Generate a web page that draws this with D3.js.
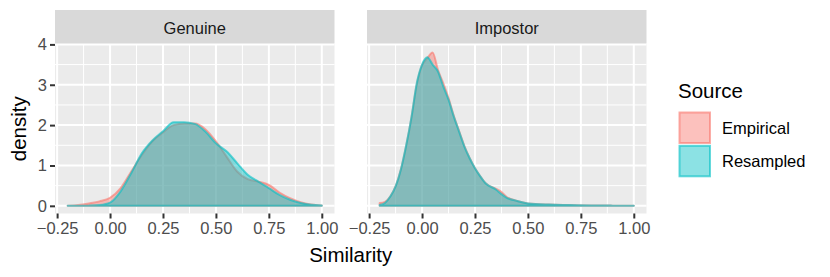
<!DOCTYPE html>
<html>
<head>
<meta charset="utf-8">
<script src="https://cdn.jsdelivr.net/npm/d3@7"></script>
<style>
  body { margin: 0; background: #fff; }
  svg text { font-family: "Liberation Sans", Arial, sans-serif; }
</style>
</head>
<body>
<div id="chart"></div>
<script>
// Facets and sources
const panels = ["Genuine", "Impostor"];
const sources = ["Empirical", "Resampled"];
const sourceColors = { "Empirical": "#F8766D", "Resampled": "#00BFC4" };

// Axis ticks
const xTicks = [-0.25, 0, 0.25, 0.5, 0.75, 1];
const xTickLabels = ["\u22120.25", "0.00", "0.25", "0.50", "0.75", "1.00"];
const xMinor = [-0.125, 0.125, 0.375, 0.625, 0.875];
const yTicks = [0, 1, 2, 3, 4];
const yTickLabels = ["0", "1", "2", "3", "4"];
const yMinor = [0.5, 1.5, 2.5, 3.5];

// Density estimates
const genuineX = [-0.2, -0.15, -0.1, -0.05, 0, 0.05, 0.1, 0.15, 0.2, 0.25, 0.3, 0.35, 0.4,
                  0.45, 0.5, 0.55, 0.6, 0.65, 0.7, 0.75, 0.8, 0.85, 0.9, 0.95, 1.0];
const genuineEmpirical = [0, 0.02, 0.06, 0.11, 0.2, 0.44, 0.85, 1.26, 1.6, 1.82, 2.0, 2.04, 2.04,
                          1.9, 1.6, 1.22, 0.85, 0.66, 0.6, 0.52, 0.33, 0.19, 0.09, 0.035, 0.01];
const genuineResampled = [0, 0.001, 0.005, 0.02, 0.08, 0.36, 0.81, 1.3, 1.62, 1.85, 2.07, 2.07, 2.03,
                          1.84, 1.55, 1.35, 1.06, 0.77, 0.6, 0.44, 0.27, 0.15, 0.07, 0.025, 0.01];

const impostorX = [-0.2, -0.175, -0.15, -0.125, -0.1, -0.075, -0.05, -0.025, 0, 0.025, 0.05, 0.075,
                   0.1, 0.125, 0.15, 0.175, 0.2, 0.225, 0.25, 0.275, 0.3, 0.35, 0.375, 0.4, 0.45,
                   0.5, 0.6, 0.7, 0.8, 0.9, 1.0];
const impostorEmpirical = [0.07, 0.1, 0.23, 0.48, 0.9, 1.48, 2.18, 3.0, 3.48, 3.66, 3.8, 3.37,
                           3.04, 2.67, 2.23, 1.85, 1.48, 1.18, 0.93, 0.73, 0.56, 0.42, 0.34, 0.22, 0.12,
                           0.06, 0.03, 0.02, 0.01, 0.005, 0.002];
const impostorResampled = [0.02, 0.07, 0.23, 0.48, 0.9, 1.5, 2.2, 3.04, 3.5, 3.68, 3.5, 3.33,
                           2.96, 2.63, 2.21, 1.84, 1.47, 1.18, 0.93, 0.73, 0.56, 0.4, 0.29, 0.2, 0.12,
                           0.06, 0.03, 0.02, 0.01, 0.005, 0.002];

const panelData = {
    "Genuine": { x: genuineX, Empirical: genuineEmpirical, Resampled: genuineResampled },
    "Impostor": { x: impostorX, Empirical: impostorEmpirical, Resampled: impostorResampled }
};

const width = 830, height = 277;
const svg = d3.select("#chart").append("svg")
    .attr("width", width)
    .attr("height", height);

// Panel geometry
const panelLeft = { "Genuine": 55, "Impostor": 367 };
const panelW = 279.5;
const panelTop = 44, panelBottom = 213.5;
const stripTop = 10;

const y = d3.scaleLinear().domain([-0.19, 4.01]).range([panelBottom, panelTop]);

panels.forEach(name => {
    const x0 = panelLeft[name];
    const x = d3.scaleLinear().domain([-0.26, 1.06]).range([x0, x0 + panelW]);
    const g = svg.append("g");

    // background
    g.append("rect")
        .attr("x", x0).attr("y", panelTop)
        .attr("width", panelW).attr("height", panelBottom - panelTop)
        .attr("fill", "#EBEBEB");

    // minor grid
    xMinor.forEach(v => {
        g.append("line").attr("x1", x(v)).attr("x2", x(v))
            .attr("y1", panelTop).attr("y2", panelBottom)
            .attr("stroke", "#fff").attr("stroke-width", 1);
    });
    yMinor.forEach(v => {
        g.append("line").attr("x1", x0).attr("x2", x0 + panelW)
            .attr("y1", y(v)).attr("y2", y(v))
            .attr("stroke", "#fff").attr("stroke-width", 1);
    });
    // major grid
    xTicks.forEach(v => {
        g.append("line").attr("x1", x(v)).attr("x2", x(v))
            .attr("y1", panelTop).attr("y2", panelBottom)
            .attr("stroke", "#fff").attr("stroke-width", 2);
    });
    yTicks.forEach(v => {
        g.append("line").attr("x1", x0).attr("x2", x0 + panelW)
            .attr("y1", y(v)).attr("y2", y(v))
            .attr("stroke", "#fff").attr("stroke-width", 2);
    });

    // densities
    const d = panelData[name];
    sources.forEach(src => {
        const pts = d.x.map((xv, i) => [xv, d[src][i]]);
        const area = d3.area()
            .x(p => x(p[0]))
            .y0(y(0))
            .y1(p => y(p[1]))
            .curve(d3.curveMonotoneX);
        g.append("path")
            .datum(pts)
            .attr("d", area)
            .attr("fill", sourceColors[src])
            .attr("fill-opacity", 0.45)
            .attr("stroke", sourceColors[src])
            .attr("stroke-opacity", 0.6)
            .attr("stroke-width", 2)
            .attr("stroke-linejoin", "round");
    });

    // strip
    g.append("rect")
        .attr("x", x0).attr("y", stripTop)
        .attr("width", panelW).attr("height", panelTop - stripTop - 0.5)
        .attr("fill", "#D9D9D9");
    g.append("text")
        .attr("x", x0 + panelW / 2).attr("y", 34)
        .attr("text-anchor", "middle")
        .attr("font-size", 16.5)
        .attr("fill", "#1A1A1A")
        .text(name);

    // x axis
    const xAxis = d3.axisBottom(x)
        .tickValues(xTicks)
        .tickFormat((v, i) => xTickLabels[i])
        .tickSize(5)
        .tickPadding(4);
    const ax = g.append("g")
        .attr("transform", `translate(0,${panelBottom})`)
        .call(xAxis);
    ax.select(".domain").remove();
    ax.selectAll(".tick line").attr("stroke", "#333333").attr("stroke-width", 2);
    ax.selectAll(".tick text")
        .attr("font-size", 16.5)
        .attr("font-family", "Liberation Sans, Arial, sans-serif")
        .attr("fill", "#4D4D4D");

    // y axis only on first panel
    if (name === "Genuine") {
        const yAxis = d3.axisLeft(y)
            .tickValues(yTicks)
            .tickFormat((v, i) => yTickLabels[i])
            .tickSize(5)
            .tickPadding(3);
        const ay = g.append("g")
            .attr("transform", `translate(${x0},0)`)
            .call(yAxis);
        ay.select(".domain").remove();
        ay.selectAll(".tick line").attr("stroke", "#333333").attr("stroke-width", 2);
        ay.selectAll(".tick text")
            .attr("font-size", 16.5)
            .attr("font-family", "Liberation Sans, Arial, sans-serif")
            .attr("fill", "#4D4D4D");
    }
});

// axis titles
svg.append("text")
    .attr("x", (panelLeft.Genuine + panelLeft.Impostor + panelW) / 2)
    .attr("y", 262)
    .attr("text-anchor", "middle")
    .attr("font-size", 20.5)
    .attr("fill", "#000")
    .text("Similarity");
svg.append("text")
    .attr("transform", `translate(26,${(panelTop + panelBottom) / 2}) rotate(-90)`)
    .attr("text-anchor", "middle")
    .attr("font-size", 20.5)
    .attr("fill", "#000")
    .text("density");

// legend
const legend = svg.append("g");
legend.append("text")
    .attr("x", 678).attr("y", 98)
    .attr("font-size", 20.5)
    .attr("fill", "#000")
    .text("Source");
sources.forEach((src, i) => {
    const ky = 112 + i * 33.3;
    legend.append("rect")
        .attr("x", 679.5).attr("y", ky + 0.5)
        .attr("width", 30.5).attr("height", 30.5)
        .attr("fill", sourceColors[src])
        .attr("fill-opacity", 0.45)
        .attr("stroke", sourceColors[src])
        .attr("stroke-opacity", 0.6)
        .attr("stroke-width", 2);
    legend.append("text")
        .attr("x", 722).attr("y", ky + 22)
        .attr("font-size", 16.5)
        .attr("fill", "#000")
        .text(src);
});
</script>
</body>
</html>
